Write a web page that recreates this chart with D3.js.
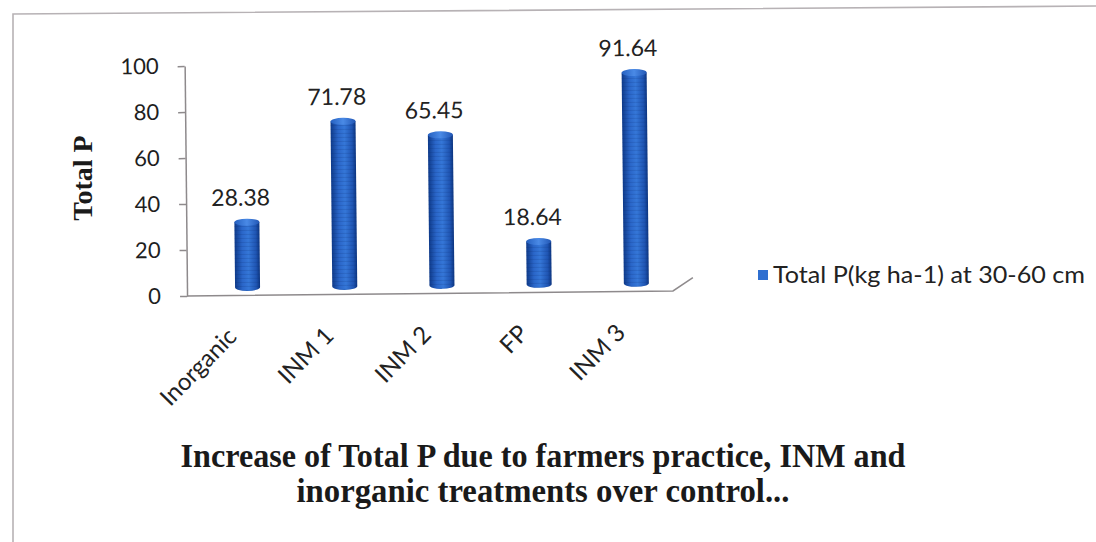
<!DOCTYPE html>
<html>
<head>
<meta charset="utf-8">
<script src="https://cdn.jsdelivr.net/npm/d3@7/dist/d3.min.js"></script>
<style>
  html, body { margin: 0; padding: 0; background: #ffffff; }
  svg { display: block; }
</style>
</head>
<body>
<script>
// ---- data ----
const categories = ["Inorganic", "INM 1", "INM 2", "FP", "INM 3"];
const values = [28.38, 71.78, 65.45, 18.64, 91.64];
const yTicks = [0, 20, 40, 60, 80, 100];
const seriesName = "Total P(kg ha-1) at 30-60 cm";
const yTitle = "Total P";
const titleLines = ["Increase of Total P due to farmers practice, INM and",
                    "inorganic treatments over control..."];

// ---- setup ----
const W = 1096, H = 542;
const svg = d3.select("body").append("svg").attr("width", W).attr("height", H);
const defs = svg.append("defs");

const grad = defs.append("linearGradient").attr("id", "cyl")
  .attr("x1", "0").attr("x2", "1").attr("y1", "0").attr("y2", "0");
grad.append("stop").attr("offset", "0").attr("stop-color", "#0e3a8a");
grad.append("stop").attr("offset", "0.3").attr("stop-color", "#2a66c9");
grad.append("stop").attr("offset", "0.55").attr("stop-color", "#3577d8");
grad.append("stop").attr("offset", "0.85").attr("stop-color", "#1f55b3");
grad.append("stop").attr("offset", "1").attr("stop-color", "#0c3580");

const capGrad = defs.append("linearGradient").attr("id", "cap")
  .attr("x1", "0").attr("x2", "1").attr("y1", "0").attr("y2", "0");
capGrad.append("stop").attr("offset", "0").attr("stop-color", "#2560c0");
capGrad.append("stop").attr("offset", "0.5").attr("stop-color", "#4a8ae6");
capGrad.append("stop").attr("offset", "1").attr("stop-color", "#2257b5");

const stripes = defs.append("pattern").attr("id", "stripes")
  .attr("patternUnits", "userSpaceOnUse").attr("width", 4).attr("height", 4);
stripes.append("rect").attr("width", 4).attr("height", 1).attr("fill", "#0a2f70").attr("opacity", 0.18);

// frame
svg.append("path")
  .attr("d", "M13,542 V14 L1096,6")
  .attr("fill", "none").attr("stroke", "#b7b2b5").attr("stroke-width", 1.6);

// plot (slightly rotated like the scan)
const g = svg.append("g").attr("transform", "rotate(-0.6,430,290)");

const x = d3.scaleBand().domain(categories).range([187, 673]).padding(0);
const y = d3.scaleLinear().domain([0, 100]).range([293.5, 63.5]);
const depthX = 12, depthY = -8;
const rx = 12.5, ry = 3.5;

// floor
g.append("path")
  .attr("d", `M${x.range()[0]},${y(0)} H${x.range()[1]} l20,-13`)
  .attr("fill", "none").attr("stroke", "#8e8a8c").attr("stroke-width", 1.5);

// y axis
const yAxis = g.append("g").attr("transform", `translate(${x.range()[0]},0)`)
  .call(d3.axisLeft(y).tickValues(yTicks).tickSize(7).tickSizeOuter(0).tickPadding(19));
yAxis.select(".domain").attr("stroke", "#8e8a8c").attr("stroke-width", 1.5);
yAxis.selectAll(".tick line").attr("stroke", "#8e8a8c").attr("stroke-width", 1.5);
yAxis.selectAll(".tick text")
  .attr("font-family", "Lato, 'Open Sans', sans-serif")
  .attr("font-size", 22).attr("fill", "#1e1e1e");

// bars (cylinders)
const data = categories.map((c, i) => ({ c, v: values[i] }));
const bars = g.append("g").selectAll("g").data(data).join("g");
bars.each(function(d) {
  const sel = d3.select(this);
  const cx = x(d.c) + x.bandwidth() / 2 + depthX;
  const yb = y(0) + depthY;
  const yt = y(d.v) + depthY;
  const body = `M${cx - rx},${yt} L${cx - rx},${yb} A${rx},${ry} 0 0 0 ${cx + rx},${yb} L${cx + rx},${yt} Z`;
  sel.append("path").attr("d", body).attr("fill", "url(#cyl)");
  sel.append("path").attr("d", body).attr("fill", "url(#stripes)");
  sel.append("ellipse").attr("cx", cx).attr("cy", yt).attr("rx", rx).attr("ry", ry)
    .attr("fill", "url(#cap)");
});

// data labels
g.append("g").selectAll("text").data(data).join("text")
  .attr("x", d => x(d.c) + x.bandwidth() / 2 + 6)
  .attr("y", d => y(d.v) + depthY - ry - 13)
  .attr("text-anchor", "middle")
  .attr("font-family", "Lato, 'Open Sans', sans-serif")
  .attr("font-size", 23).attr("fill", "#222")
  .text(d => d.v.toFixed(2));

// category labels
g.append("g").selectAll("text").data(categories).join("text")
  .attr("transform", c => `translate(${x(c) + x.bandwidth() / 2 + 2},336) rotate(-45)`)
  .attr("text-anchor", "end")
  .attr("font-family", "Lato, 'Open Sans', sans-serif")
  .attr("font-size", 24).attr("fill", "#222")
  .text(c => c);

// y title
svg.append("text")
  .attr("transform", "translate(92,178) rotate(-90)")
  .attr("text-anchor", "middle")
  .attr("font-family", "'Liberation Serif', 'Times New Roman', serif")
  .attr("font-weight", "bold").attr("font-size", 28).attr("fill", "#1a1a1a")
  .text(yTitle);

// legend
const leg = svg.append("g");
leg.append("rect").attr("x", 758).attr("y", 270).attr("width", 10).attr("height", 10)
  .attr("fill", "#2f6fd0");
leg.append("text").attr("x", 773).attr("y", 283)
  .attr("font-family", "Lato, 'Open Sans', sans-serif")
  .attr("font-size", 24).attr("fill", "#222")
  .attr("textLength", 312).attr("lengthAdjust", "spacingAndGlyphs")
  .text(seriesName);

// title
const titleLens = [725, 493];
const titleY = [467, 502];
svg.append("g").selectAll("text").data(titleLines).join("text")
  .attr("x", 543)
  .attr("y", (d, i) => titleY[i])
  .attr("text-anchor", "middle")
  .attr("font-family", "'Liberation Serif', 'Times New Roman', serif")
  .attr("font-weight", "bold").attr("font-size", 33).attr("fill", "#1a1a1a")
  .attr("textLength", (d, i) => titleLens[i])
  .attr("lengthAdjust", "spacingAndGlyphs")
  .text(d => d);
</script>
</body>
</html>
